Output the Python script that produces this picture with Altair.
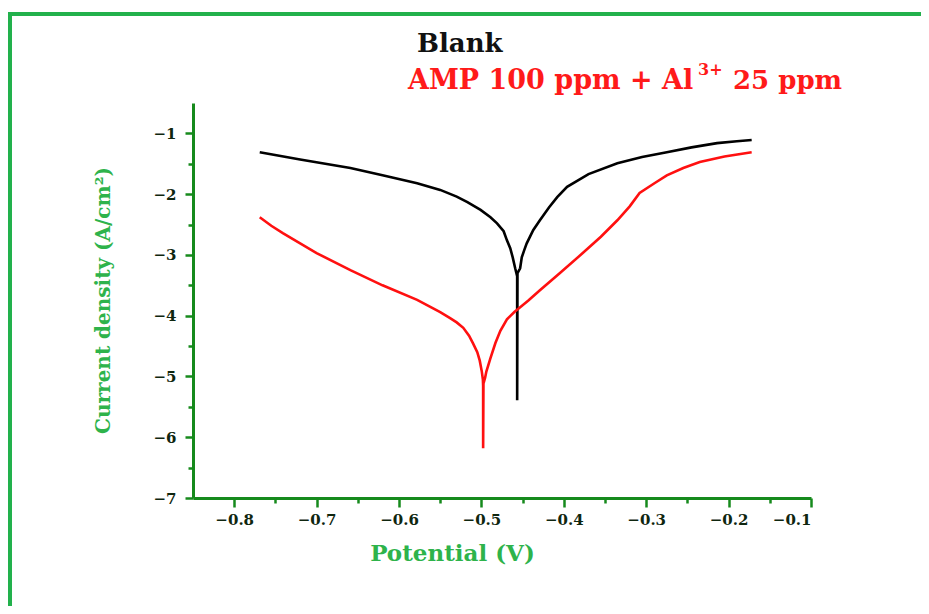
import altair as alt
import pandas as pd

# ---- data ----
blank_potential = [-0.769, -0.720, -0.659, -0.620, -0.578, -0.550, -0.530, -0.517, -0.501, -0.489,
                   -0.481, -0.473, -0.469, -0.465, -0.462, -0.459, -0.4566, -0.4566, -0.4562,
                   -0.453, -0.451, -0.448, -0.445, -0.441, -0.437, -0.429, -0.418, -0.408,
                   -0.396, -0.370, -0.335, -0.305, -0.275, -0.245, -0.214, -0.190, -0.172]
blank_logi = [-1.31, -1.43, -1.57, -1.69, -1.82, -1.93, -2.04, -2.13, -2.26, -2.38,
              -2.48, -2.61, -2.76, -2.89, -3.04, -3.22, -3.35, -5.39, -3.30,
              -3.22, -3.04, -2.92, -2.81, -2.70, -2.59, -2.43, -2.22, -2.05,
              -1.88, -1.67, -1.49, -1.39, -1.31, -1.23, -1.16, -1.13, -1.11]

amp_potential = [-0.769, -0.755, -0.741, -0.700, -0.659, -0.620, -0.578, -0.550, -0.538, -0.530,
                 -0.522, -0.515, -0.510, -0.505, -0.502, -0.4995, -0.4982, -0.4979, -0.4979,
                 -0.4975, -0.4955, -0.494, -0.489, -0.483, -0.477, -0.469, -0.460, -0.450,
                 -0.443, -0.429, -0.405, -0.377, -0.355, -0.335, -0.320, -0.308, -0.290,
                 -0.275, -0.255, -0.235, -0.205, -0.172]
amp_logi = [-2.38, -2.52, -2.64, -2.97, -3.25, -3.50, -3.74, -3.94, -4.04, -4.11,
            -4.20, -4.33, -4.46, -4.60, -4.74, -4.92, -5.05, -5.15, -6.18,
            -5.12, -5.02, -4.92, -4.70, -4.45, -4.25, -4.06, -3.94, -3.83,
            -3.75, -3.58, -3.30, -2.97, -2.70, -2.43, -2.20, -1.98, -1.82,
            -1.69, -1.57, -1.47, -1.38, -1.31]

x_major = [-0.8, -0.7, -0.6, -0.5, -0.4, -0.3, -0.2, -0.1]
x_minor = [-0.75, -0.65, -0.55, -0.45, -0.35, -0.25, -0.15]
y_major = [-7, -6, -5, -4, -3, -2, -1]
y_minor = [-6.5, -5.5, -4.5, -3.5, -2.5, -1.5]

legend_blank = "Blank"
legend_amp = ["AMP 100 ppm + Al", "3+", "25 ppm"]
x_title = "Potential (V)"
y_title = "Current density (A/cm²)"

# ---- styling ----
AXIS_GREEN = "#168a1c"
TITLE_GREEN = "#2eb34b"
FRAME_GREEN = "#22b14c"
LABEL_COLOR = "#0f260f"
FONT = "DejaVu Serif"

blank_df = pd.DataFrame({"E": blank_potential, "logi": blank_logi,
                         "order": list(range(len(blank_potential)))})
amp_df = pd.DataFrame({"E": amp_potential, "logi": amp_logi,
                       "order": list(range(len(amp_potential)))})

xscale = alt.Scale(domain=[-0.85, -0.1], nice=False, zero=False)
yscale = alt.Scale(domain=[-7, -0.5], nice=False, zero=False)

main_x_axis = alt.Axis(orient="bottom", values=x_major, format=".1f", grid=False,
                       domainColor=AXIS_GREEN, domainWidth=3, tickColor=AXIS_GREEN,
                       tickWidth=2.5, tickSize=9, labelPadding=5, labelFont=FONT,
                       labelFontWeight="bold", labelFontSize=15, labelColor=LABEL_COLOR,
                       title=x_title, titleFont=FONT, titleFontWeight="bold",
                       titleFontSize=23, titleColor=TITLE_GREEN, titleX=259, titleY=44,
                       titleAlign="center", titleBaseline="top")
main_y_axis = alt.Axis(orient="left", values=y_major, format="d", grid=False,
                       domainColor=AXIS_GREEN, domainWidth=3, tickColor=AXIS_GREEN,
                       tickWidth=2.5, tickSize=8, labelPadding=9, labelFont=FONT,
                       labelFontWeight="bold", labelFontSize=15, labelColor=LABEL_COLOR,
                       title=y_title, titleFont=FONT, titleFontWeight="bold",
                       titleFontSize=20, titleColor=TITLE_GREEN, titleX=-90, titleY=197,
                       titleAlign="center", titleBaseline="middle", titleAngle=270)

minor_x_axis = alt.Axis(orient="bottom", values=x_minor, grid=False, domain=False,
                        labels=False, tickColor=AXIS_GREEN, tickWidth=2.5, tickSize=5,
                        title="")
minor_y_axis = alt.Axis(orient="left", values=y_minor, grid=False, domain=False,
                        labels=False, tickColor=AXIS_GREEN, tickWidth=2.5, tickSize=5,
                        title="")

blank_line = alt.Chart(blank_df).mark_line(color="black", strokeWidth=2.6).encode(
    x=alt.X("E:Q", scale=xscale, axis=main_x_axis),
    y=alt.Y("logi:Q", scale=yscale, axis=main_y_axis),
    order="order:Q",
)
amp_line = alt.Chart(amp_df).mark_line(color="#ff1010", strokeWidth=2.6).encode(
    x=alt.X("E:Q", scale=xscale, axis=minor_x_axis),
    y=alt.Y("logi:Q", scale=yscale, axis=minor_y_axis),
    order="order:Q",
)

one = pd.DataFrame({"k": [0]})
frame = alt.Chart(one).mark_rect(filled=False, stroke=FRAME_GREEN, strokeWidth=4).encode(
    x=alt.value(-183), y=alt.value(-89), x2=alt.value(760), y2=alt.value(530)
)
t_blank = alt.Chart(one).mark_text(text=legend_blank, font=FONT, fontWeight="bold",
                                   fontSize=26, color="#111111", align="left",
                                   baseline="alphabetic").encode(
    x=alt.value(224), y=alt.value(-51))
t_amp1 = alt.Chart(one).mark_text(text=legend_amp[0], font=FONT, fontWeight="bold",
                                  fontSize=27, color="#ff1a1a", align="left",
                                  baseline="alphabetic").encode(
    x=alt.value(215), y=alt.value(-14))
t_amp2 = alt.Chart(one).mark_text(text=legend_amp[1], font=FONT, fontWeight="bold",
                                  fontSize=16, color="#ff1a1a", align="left",
                                  baseline="alphabetic").encode(
    x=alt.value(505), y=alt.value(-28))
t_amp3 = alt.Chart(one).mark_text(text=legend_amp[2], font=FONT, fontWeight="bold",
                                  fontSize=26, color="#ff1a1a", align="left",
                                  baseline="alphabetic").encode(
    x=alt.value(540), y=alt.value(-14))

chart = alt.layer(blank_line, amp_line, frame, t_blank, t_amp1, t_amp2, t_amp3).resolve_axis(
    x="independent", y="independent"
).properties(
    width=618, height=395,
    padding={"left": 185, "top": 95, "right": 110, "bottom": 108},
    autosize=alt.AutoSizeParams(type="none"),
    background="white",
).configure_view(strokeWidth=0)

chart.save("out.html", embed_options={"renderer": "svg", "actions": False})
